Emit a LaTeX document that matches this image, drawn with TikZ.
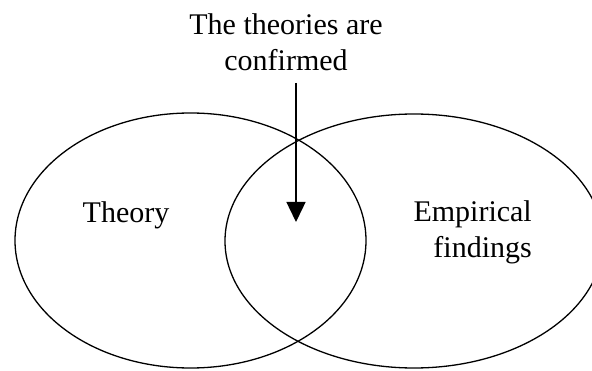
\documentclass[tikz,border=0pt]{standalone}
\usepackage{fontspec}
\setmainfont{Liberation Serif}
\usetikzlibrary{arrows.meta,positioning}

\tikzset{
  vennline/.style={black,line width=1.3pt},
  vennlabel/.style={font=\fontsize{30}{35}\selectfont,inner sep=0pt},
}

\begin{document}
\begin{tikzpicture}[x=1pt,y=1pt]
  \useasboundingbox (0,0) rectangle (592,370);

  \draw[vennline] (190.5,129.5) ellipse [x radius=175.5,y radius=127.5];
  \draw[vennline] (414,129) ellipse [x radius=189,y radius=127];

  \node[vennlabel,anchor=base] (titletop) at (286,335) {The theories are};
  \node[vennlabel,anchor=base] (titlebot) at (286,299) {confirmed};

  \node[vennlabel,anchor=base] (theory) at (126,147) {Theory};
  \node[vennlabel,anchor=base east] (empirical) at (532,148) {Empirical};
  \node[vennlabel,anchor=base east] (findings) at (532,113) {findings};

  \coordinate (arrowtop) at (296,287);
  \coordinate (arrowtip) at (296,148);
  \draw[line width=1.4pt,-{Triangle[length=20pt,width=19pt]}] (arrowtop) -- (arrowtip);
\end{tikzpicture}
\end{document}
